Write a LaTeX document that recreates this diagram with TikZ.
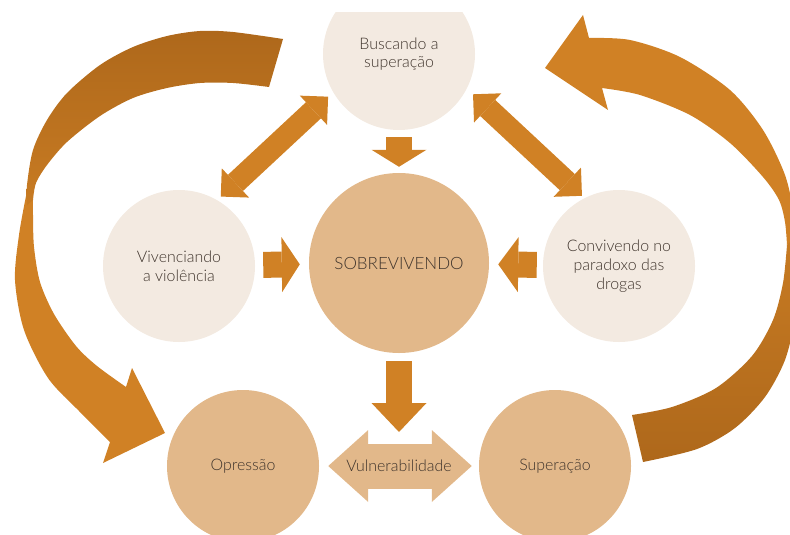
\documentclass[tikz,border=0pt]{standalone}
\usepackage{fontspec}
\IfFontExistsTF{Lato Light}{\setmainfont{Lato Light}}{\setmainfont{Lato}}
\usepackage{xcolor}
\usepackage{tikz}
\usetikzlibrary{arrows.meta}

\definecolor{paleBeige}{HTML}{F3EAE1}
\definecolor{tanBeige}{HTML}{E2B88A}
\definecolor{arrowOrange}{HTML}{D08125}
\definecolor{arrowBrown}{HTML}{AE681B}
\definecolor{labelGrey}{HTML}{3F342C}

\begin{document}
\begin{tikzpicture}[
  x=0.03cm, y=-0.03cm,
  font=\fontsize{13.6}{16}\selectfont,
  text=labelGrey,
  palecirc/.style={circle, fill=paleBeige, minimum size=4.56cm, inner sep=0pt, align=center},
  tancirc/.style={circle, fill=tanBeige, minimum size=4.56cm, inner sep=0pt, align=center},
  blockarrow/.style={draw=arrowOrange, line width=0.78cm, -{Triangle[width=1.65cm, length=#1, line width=0pt 0 0]}},
  diagarrow/.style={draw=arrowOrange, line width=0.66cm,
    {Triangle[width=1.2cm, length=0.6cm, line width=0pt 0 0]}-{Triangle[width=1.2cm, length=0.6cm, line width=0pt 0 0]}},
  vularrow/.style={draw=tanBeige, line width=1.35cm,
    {Triangle[width=2.16cm, length=1.2cm, line width=0pt 0 0]}-{Triangle[width=2.16cm, length=1.2cm, line width=0pt 0 0]}}
]
\useasboundingbox (0,0) rectangle (790,534);
\clip (0,13) rectangle (790,534);

% Big loops (back part darker)
\fill[arrowOrange] plot[smooth] coordinates {(26,196) (19,235) (15,280) (24,330) (48,378) (80,412) (110,442)}
  -- (103,463) -- (165,433) -- (132,368)
  -- plot[smooth] coordinates {(126,387) (97,366) (76,346) (54,314) (40,282) (34,247) (33,215) (33,196)} -- cycle;
\shade[top color=arrowBrown, middle color=arrowBrown, bottom color=arrowOrange!75!arrowBrown]
  plot[smooth] coordinates {(283,39) (233,32) (200,31) (167,36) (133,47) (100,65) (67,93) (47,120) (33,150) (27,185) (27,205)}
  -- plot[smooth] coordinates {(33,200) (36,183) (47,165) (67,142) (100,116) (133,98) (167,88) (200,83) (233,83) (269,87)} -- cycle;

\fill[arrowOrange] (545,68) -- (583,15)
  -- plot[smooth] coordinates {(589,38) (630,40) (680,57) (730,90) (763,130) (785,175) (794,215) (796,240)}
  -- plot[smooth] coordinates {(787,245) (785,222) (779,200) (763,177) (730,143) (690,115) (640,95) (602,88)}
  -- (608,110) -- cycle;
\shade[top color=arrowOrange!75!arrowBrown, middle color=arrowBrown, bottom color=arrowBrown]
  plot[smooth] coordinates {(796,236) (798,275) (795,318) (785,360) (765,397) (735,428) (697,449) (643,462)}
  -- plot[smooth] coordinates {(632,415) (672,407) (716,388) (752,356) (773,320) (783,283) (787,245)} -- cycle;

% Circles
\node[palecirc] (busc) at (399,54) {Buscando a\\superação};
\node[palecirc] (viv) at (179,266) {Vivenciando\\a violência};
\node[tancirc, minimum size=5.4cm, font=\fontsize{14.5}{17}\selectfont] (sobre) at (399,263) {SOBREVIVENDO};
\node[palecirc] (conv) at (619,266) {Convivendo no\\paradoxo das\\drogas};
\node[tancirc] (opr) at (243,466) {Opressão};
\node[tancirc] (sup) at (555,466) {Superação};
\coordinate (vtop) at (399,432);

% Arrows
\draw[blockarrow=0.51cm, shorten <=0.21cm, shorten >=0.18cm] (busc) -- (sobre);
\draw[blockarrow=0.54cm, shorten <=0.24cm, shorten >=0.27cm] (viv) -- (sobre);
\draw[blockarrow=0.6cm, shorten <=0.18cm, shorten >=0.27cm] (conv) -- (sobre);
\draw[blockarrow=0.87cm, shorten <=0.24cm] (sobre) -- (vtop);
\draw[diagarrow, shorten <=0.15cm, shorten >=0.2cm] (viv.60) -- (busc.210);
\draw[diagarrow, shorten <=0.25cm, shorten >=0.1cm] (busc.333) -- (conv.117);
\draw[vularrow, shorten <=0.27cm, shorten >=0.21cm] (opr) -- (sup) node[midway] (vuln) {Vulnerabilidade};

\end{tikzpicture}
\end{document}
